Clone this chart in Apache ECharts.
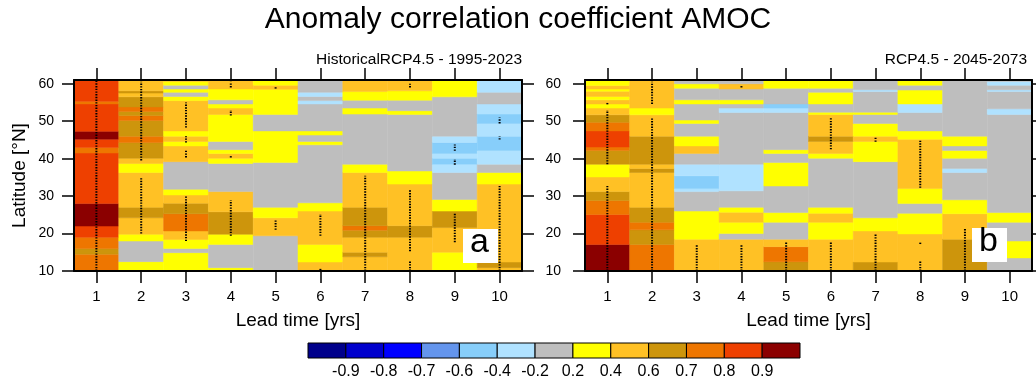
<!DOCTYPE html>
<html lang="en">
<head>
    <meta charset="UTF-8">
    <title>Anomaly correlation coefficient AMOC</title>
    <script src="https://cdn.jsdelivr.net/npm/echarts@6/dist/echarts.min.js"></script>
    <style>
        body { margin: 0; background: #fff; }
        #chart { width: 1036px; height: 380px; }
    </style>
</head>
<body>
    <div id="chart"></div>
    <script>
        // lead times (x) and latitude ticks (y)
        var leadTimes = ['1', '2', '3', '4', '5', '6', '7', '8', '9', '10'];
        var latTicks = [10, 20, 30, 40, 50, 60];

        // colour classes of the correlation
        var levelBounds = [-0.9, -0.8, -0.7, -0.6, -0.4, -0.2, 0.2, 0.4, 0.6, 0.7, 0.8, 0.9];
        var levelColors = ['#00008b', '#0000cd', '#0000ff', '#6495ed', '#87cefa', '#b0e2ff', '#bebebe',
                           '#ffff00', '#ffc125', '#cd950c', '#ee7600', '#ee4000', '#8b0000'];
        var barLabels = ['-0.9', '-0.8', '-0.7', '-0.6', '-0.4', '-0.2', '0.2', '0.4', '0.6', '0.7', '0.8', '0.9'];
        var barValues = [-0.95, -0.85, -0.75, -0.65, -0.5, -0.3, 0, 0.3, 0.5, 0.65, 0.75, 0.85, 0.95];

        // one list per lead time: [lat from, lat to, correlation]
        var histRuns = [
            [[10,14.5,.75],[14.5,16,.65],[16,19,.75],[19,22,.85],[22,28,.95],[28,41.5,.85],[41.5,43,.75],[43,45.2,.85],[45.2,47.3,.95],[47.3,54.6,.85],[54.6,55.3,.75],[55.3,61,.85]],
            [[10,12.5,.3],[12.5,18,0],[18,19.8,.3],[19.8,24.2,.5],[24.2,27,.65],[27,36.3,.5],[36.3,38.7,.3],[38.7,40.1,.5],[40.1,44.3,.65],[44.3,46,.75],[46,50.2,.65],[50.2,51.5,.75],[51.5,52.6,.65],[52.6,53.8,.75],[53.8,56.5,.65],[56.5,57.5,.5],[57.5,58.1,.65],[58.1,61,.5]],
            [[10,14.9,.3],[14.9,16,0],[16,18.4,.3],[18.4,20.7,.5],[20.7,25.3,.75],[25.3,28.1,.65],[28.1,30.3,.5],[30.3,31.8,.3],[31.8,39.2,0],[39.2,43.4,.5],[43.4,44.6,.3],[44.6,46,.5],[46,47.4,.3],[47.4,55.5,.5],[55.5,56.6,.3],[56.6,57.7,0],[57.7,58.6,.3],[58.6,59.6,0],[59.6,60.6,.3],[60.6,61,.5]],
            [[10,10.9,.3],[10.9,17.1,0],[17.1,19.8,.3],[19.8,25.8,.65],[25.8,31.2,.5],[31.2,38.7,0],[38.7,40.1,.3],[40.1,41.4,.5],[41.4,42.4,.3],[42.4,44.6,0],[44.6,51.8,.3],[51.8,53.5,.5],[53.5,54.6,.3],[54.6,55.7,0],[55.7,58.6,.3],[58.6,61,.5]],
            [[10,19.4,0],[19.4,24.2,.5],[24.2,27,.3],[27,39,0],[39,47.4,.3],[47.4,51.8,0],[51.8,58.5,.3],[58.5,59.6,.5],[59.6,61,.3]],
            [[10,12.4,.5],[12.4,17.1,.3],[17.1,26,.5],[26,28.2,.3],[28.2,43.7,0],[43.7,44.6,.3],[44.6,46.3,0],[46.3,47.4,.3],[47.4,54.6,0],[54.6,55.5,-.3],[55.5,56.6,0],[56.6,57.7,-.3],[57.7,61,0]],
            [[10,13.8,.5],[13.8,15,.65],[15,19,.5],[19,20.9,.65],[20.9,22.1,.75],[22.1,27,.65],[27,36.3,.5],[36.3,38.5,.3],[38.5,51.9,0],[51.9,53.5,.3],[53.5,55.6,0],[55.6,57.9,.3],[57.9,61,.5]],
            [[10,19,.5],[19,22.1,.65],[22.1,33.2,.5],[33.2,36.7,.3],[36.7,51.8,0],[51.8,52.8,.3],[52.8,55.6,0],[55.6,58.1,.3],[58.1,61,.5]],
            [[10,15,.3],[15,21.6,.5],[21.6,26,.65],[26,29.1,.3],[29.1,36.3,0],[36.3,38.5,-.3],[38.5,40.1,-.5],[40.1,41.4,-.3],[41.4,44.3,-.5],[44.3,46,-.3],[46,56.5,0],[56.5,61,.3]],
            [[10,10.9,.5],[10.9,12.4,.65],[12.4,33.2,.5],[33.2,36.3,.3],[36.3,38.5,0],[38.5,42.2,-.3],[42.2,46,-.5],[46,49.4,-.3],[49.4,51.9,-.5],[51.9,54.6,-.3],[54.6,57.7,0],[57.7,61,-.3]]
        ];

        var futRuns = [
            [[10,17.1,.95],[17.1,25.1,.85],[25.1,28.8,.75],[28.8,31.2,.65],[31.2,35.1,.5],[35.1,38.5,.3],[38.5,42.2,.65],[42.2,43.1,.75],[43.1,47.4,.85],[47.4,49.7,.75],[49.7,51.7,.65],[51.7,53.5,.5],[53.5,54.6,.3],[54.6,55.7,.5],[55.7,56.6,.3],[56.6,58,.5],[58,58.6,.3],[58.6,59.5,.5],[59.5,61,.3]],
            [[10,17.1,.75],[17.1,21,.65],[21,23,.75],[23,27,.65],[27,36.3,.5],[36.3,37.4,.65],[37.4,38.5,.5],[38.5,46,.65],[46,51.7,.5],[51.7,53.5,.3],[53.5,61,.5]],
            [[10,18.5,.5],[18.5,26,.3],[26,31.2,0],[31.2,32,-.3],[32,35.4,-.5],[35.4,38.5,-.3],[38.5,41.4,0],[41.4,43.4,.5],[43.4,46,.3],[46,49.4,0],[49.4,50.3,.3],[50.3,54.6,0],[54.6,55.7,.3],[55.7,58.8,0],[58.8,60,.3],[60,61,0]],
            [[10,18.5,.5],[18.5,20,0],[20,23,.3],[23,25.7,.5],[25.7,27,.3],[27,31.4,0],[31.4,38.5,-.3],[38.5,52.3,0],[52.3,53.5,-.3],[53.5,54.6,0],[54.6,55.7,.3],[55.7,58.6,0],[58.6,60,.5],[60,61,0]],
            [[10,12.5,.65],[12.5,16.5,.75],[16.5,18.5,.5],[18.5,23,0],[23,25.6,.3],[25.6,32.7,0],[32.7,39,.3],[39,41.4,0],[41.4,42.4,.3],[42.4,52.3,0],[52.3,53.5,-.3],[53.5,54.6,-.5],[54.6,58.8,0],[58.8,61,.3]],
            [[10,18.5,.5],[18.5,23,.3],[23,25.4,.5],[25.4,27,.3],[27,40.1,0],[40.1,41.4,.3],[41.4,44.6,.5],[44.6,46,.65],[46,51.8,.5],[51.8,52.4,.3],[52.4,54.6,0],[54.6,57.7,.3],[57.7,58.8,0],[58.8,61,.3]],
            [[10,12.4,.65],[12.4,20.7,.5],[20.7,24.2,.3],[24.2,39.2,0],[39.2,44.6,.3],[44.6,46,.5],[46,49.4,.3],[49.4,51.8,0],[51.8,52.4,.3],[52.4,57.9,0],[57.9,58.4,-.3],[58.4,61,0]],
            [[10,19.9,.5],[19.9,25.4,.3],[25.4,28,0],[28,32,.3],[32,45.2,.5],[45.2,47.4,.3],[47.4,52.3,0],[52.3,54.6,-.3],[54.6,58.3,.3],[58.3,59.6,0],[59.6,61,.3]],
            [[10,18.5,.65],[18.5,25.3,.5],[25.3,29,.3],[29,36.3,0],[36.3,37.4,-.3],[37.4,40.1,0],[40.1,42.2,.3],[42.2,43.4,0],[43.4,46,.3],[46,61,0]],
            [[10,13.5,0],[13.5,18,.3],[18,23,0],[23,25.6,.3],[25.6,51.8,0],[51.8,53.3,-.3],[53.3,57.9,0],[57.9,58.4,-.3],[58.4,59.6,0],[59.6,60.6,-.3],[60.6,61,0]]
        ];

        // significant stretches: [lead time index, lat from, lat to]
        var histDots = [
            [0,10,61],[1,20,35],[1,39.5,60.5],[2,18,30],[2,40.3,42.1],[2,44.3,46],[2,48.3,55],
            [3,19.4,28.9],[3,40.3,41],[3,51.5,53],[3,59,60.5],[4,21,23.5],[4,58.7,59.3],
            [5,19.4,25.2],[5,10.2,10.8],[6,10,35.4],[7,10,12.6],[7,15.3,31.8],[7,59,60],
            [8,17.7,25.6],[8,42.1,43.8],[8,38.4,39.9],[9,10,32.7],[9,49.4,51],[9,45.1,46]
        ];
        var futDots = [
            [0,10,32.7],[0,38.5,53],[0,54.5,55],[1,10,51],[1,54.6,60.5],[2,10,17.1],[3,10,17.1],
            [3,59,59.6],[4,10,17.6],[5,10,17.9],[5,42.5,50.9],[6,10,20],[6,44.5,45.8],
            [7,10,12.7],[7,17.2,17.8],[7,32.2,44.8],[8,10,21.5]
        ];

        var font = 'Liberation Sans, Arial, Helvetica, sans-serif';

        function cellData(runs) {
            var out = [];
            runs.forEach(function (col, c) {
                col.forEach(function (r) { out.push([c, r[0], r[1], r[2]]); });
            });
            return out;
        }

        function renderCell(params, api) {
            var c = api.value(0);
            var top = api.coord([c, api.value(2)]);
            var bot = api.coord([c, api.value(1)]);
            var w = api.size([1, 0])[0];
            var cs = params.coordSys;
            var shape = echarts.graphic.clipRectByRect(
                { x: top[0] - w / 2, y: top[1], width: w, height: bot[1] - top[1] },
                { x: cs.x, y: cs.y, width: cs.width, height: cs.height });
            var color = api.visual('color');
            return shape && { type: 'rect', shape: shape, style: { fill: color, stroke: color, lineWidth: 0.5 } };
        }

        function renderDots(params, api) {
            var c = api.value(0);
            var p0 = api.coord([c, api.value(1)]);
            var p1 = api.coord([c, api.value(2)]);
            return {
                type: 'line',
                shape: { x1: p0[0], y1: p0[1], x2: p1[0], y2: p1[1] },
                style: { stroke: '#000', lineWidth: 2, lineDash: [1.4, 1.3] }
            };
        }

        function renderBar(params, api) {
            var i = api.value(0);
            var p0 = api.coord([i, 1]);
            var p1 = api.coord([i + 1, 0]);
            return {
                type: 'rect',
                shape: { x: p0[0], y: p0[1], width: p1[0] - p0[0], height: p1[1] - p0[1] },
                style: { fill: api.visual('color'), stroke: '#000', lineWidth: 1 }
            };
        }

        var pieces = levelColors.map(function (col, i) {
            var p = { color: col };
            if (i > 0) p.gte = levelBounds[i - 1];
            if (i < levelColors.length - 1) p.lt = levelBounds[i];
            return p;
        });

        var frame = { show: true, lineStyle: { color: '#000', width: 2 } };
        var tick = { show: true, inside: false, length: 12, alignWithLabel: true, lineStyle: { color: '#000', width: 1.5 } };
        var yTick = { show: true, inside: false, length: 12, customValues: latTicks, lineStyle: { color: '#000', width: 1.5 } };

        function xAxes(g) {
            return [{
                gridIndex: g, type: 'category', data: leadTimes, position: 'bottom', z: 10,
                axisLine: frame, axisTick: tick,
                axisLabel: { fontSize: 15, color: '#000', margin: 18, fontFamily: font },
                name: 'Lead time [yrs]', nameLocation: 'middle', nameGap: 40,
                nameTextStyle: { fontSize: 19, color: '#000', fontFamily: font }
            }, {
                gridIndex: g, type: 'category', data: leadTimes, position: 'top', z: 10,
                axisLine: frame, axisTick: tick, axisLabel: { show: false }
            }];
        }

        function yAxes(g, margin, withName) {
            var left = {
                gridIndex: g, type: 'value', min: 10, max: 61, position: 'left', z: 10,
                axisLine: frame, axisTick: yTick, splitLine: { show: false },
                axisLabel: { fontSize: 14, color: '#000', margin: margin, fontFamily: font, customValues: latTicks }
            };
            if (withName) {
                left.name = 'Latitude [°N]';
                left.nameLocation = 'middle';
                left.nameGap = 45;
                left.nameTextStyle = { fontSize: 19, color: '#000', fontFamily: font };
            }
            return [left, {
                gridIndex: g, type: 'value', min: 10, max: 61, position: 'right', z: 10,
                axisLine: frame, axisTick: yTick, splitLine: { show: false },
                axisLabel: { show: false }
            }];
        }

        // white box with the panel letter
        function panelLabel(text, x, y) {
            return [
                { type: 'rect', left: x, top: y, z: 100, shape: { width: 35, height: 34 }, style: { fill: '#fff' } },
                { type: 'text', left: x + 7, top: y - 3, z: 101, style: { text: text, font: '34px ' + font, fill: '#000' } }
            ];
        }

        var chart = echarts.init(document.getElementById('chart'));

        var option = {
            animation: false,
            backgroundColor: '#fff',
            title: [
                { text: 'Anomaly correlation coefficient AMOC', left: 'center', top: 5, padding: 0,
                  textStyle: { fontSize: 30, fontWeight: 'normal', color: '#000', fontFamily: font } },
                { text: 'HistoricalRCP4.5 - 1995-2023', right: 514, top: 52, padding: 0,
                  textStyle: { fontSize: 15.5, fontWeight: 'normal', color: '#000', fontFamily: font } },
                { text: 'RCP4.5 - 2045-2073', right: 9, top: 52, padding: 0,
                  textStyle: { fontSize: 15.5, fontWeight: 'normal', color: '#000', fontFamily: font } }
            ],
            grid: [
                { left: 74, top: 80, width: 448, height: 191 },
                { left: 585, top: 80, width: 447, height: 191 },
                { left: 308, top: 343, width: 492, height: 16 }
            ],
            visualMap: { type: 'piecewise', show: false, dimension: 3, seriesIndex: [0, 2, 4], pieces: pieces },
            xAxis: xAxes(0).concat(xAxes(1)).concat([{
                gridIndex: 2, type: 'value', min: 0, max: 13, interval: 1,
                axisLine: { show: false }, axisTick: { show: false }, splitLine: { show: false },
                axisLabel: { fontSize: 16, color: '#000', margin: 6, fontFamily: font,
                    formatter: function (v) { return (v >= 1 && v <= 12) ? barLabels[v - 1] : ''; } }
            }]),
            yAxis: yAxes(0, 20, true).concat(yAxes(1, 24, false)).concat([{
                gridIndex: 2, type: 'value', min: 0, max: 1, show: false
            }]),
            graphic: { elements: panelLabel('a', 463, 229).concat(panelLabel('b', 972, 228)) },
            series: [
                { type: 'custom', xAxisIndex: 0, yAxisIndex: 0, renderItem: renderCell,
                  encode: { x: 0, y: [1, 2] }, data: cellData(histRuns), z: 2 },
                { type: 'custom', xAxisIndex: 0, yAxisIndex: 0, renderItem: renderDots,
                  encode: { x: 0, y: [1, 2] }, data: histDots, z: 3 },
                { type: 'custom', xAxisIndex: 2, yAxisIndex: 2, renderItem: renderCell,
                  encode: { x: 0, y: [1, 2] }, data: cellData(futRuns), z: 2 },
                { type: 'custom', xAxisIndex: 2, yAxisIndex: 2, renderItem: renderDots,
                  encode: { x: 0, y: [1, 2] }, data: futDots, z: 3 },
                { type: 'custom', xAxisIndex: 4, yAxisIndex: 4, renderItem: renderBar,
                  encode: { x: 0 }, data: barValues.map(function (v, i) { return [i, 0, 1, v]; }) }
            ]
        };

        chart.setOption(option);
    </script>
</body>
</html>
